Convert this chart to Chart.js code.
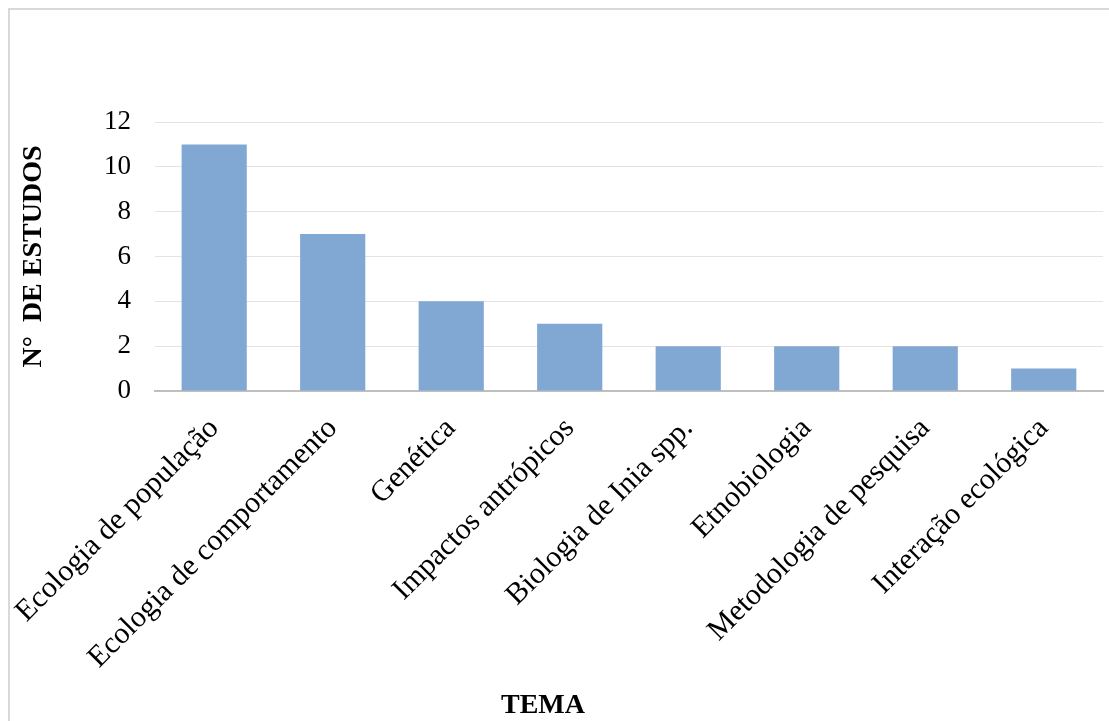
<!DOCTYPE html>
<html>
<head>
<meta charset="utf-8">
<script src="https://cdn.jsdelivr.net/npm/chart.js@4.4.0/dist/chart.umd.min.js"></script>
<style>
html,body{margin:0;padding:0;background:#fff;overflow:hidden;}
#wrap{position:relative;width:1109px;height:721px;}
#frame{position:absolute;left:8px;top:8px;width:1130px;height:740px;border:2px solid #d9d9d9;box-sizing:border-box;}
canvas{position:absolute;left:0;top:0;}
</style>
</head>
<body>
<div id="wrap">
<div id="frame"></div>
<canvas id="chart" width="1109" height="721"></canvas>
</div>
<script>
const temas = ['Ecologia de população','Ecologia de comportamento','Genética','Impactos antrópicos','Biologia de Inia spp.','Etnobiologia','Metodologia de pesquisa','Interação ecológica'];
const estudos = [11, 7, 4, 3, 2, 2, 2, 1];
const yTitulo = 'N°  DE ESTUDOS';
const xTitulo = 'TEMA';

const serif = "'Liberation Serif','Times New Roman',serif";

// x axis title is not centred on the plot in the original, so draw it here
const temaTitle = {
  id: 'temaTitle',
  afterDraw(chart) {
    const ctx = chart.ctx;
    ctx.save();
    ctx.font = "bold 28px " + serif;
    ctx.fillStyle = '#000';
    ctx.textAlign = 'center';
    ctx.textBaseline = 'alphabetic';
    ctx.fillText(xTitulo, 543, 713);
    ctx.restore();
  }
};

new Chart(document.getElementById('chart'), {
  type: 'bar',
  data: {
    labels: temas,
    datasets: [{
      data: estudos,
      backgroundColor: '#81a7d3',
      barPercentage: 0.55,
      categoryPercentage: 1
    }]
  },
  options: {
    responsive: false,
    animation: false,
    layout: {padding: {left: 2, top: 122, right: 6, bottom: 0}},
    plugins: {legend: {display: false}, tooltip: {enabled: false}},
    scales: {
      x: {
        grid: {display: false},
        border: {color: '#bfbfbf', width: 2},
        ticks: {
          color: '#000',
          font: {family: serif, size: 30},
          minRotation: 45, maxRotation: 45,
          padding: 12,
          autoSkip: false
        },
        afterFit(scale) { scale.height = 330; }
      },
      y: {
        min: 0, max: 12,
        grid: {color: '#e3e3e3', drawTicks: false},
        border: {display: false},
        ticks: {
          stepSize: 2,
          color: '#000',
          font: {family: serif, size: 27},
          padding: 24
        },
        title: {
          display: true,
          text: yTitulo,
          color: '#000',
          font: {family: serif, size: 28, weight: 'bold'},
          padding: {top: 4, bottom: 0}
        },
        afterFit(scale) { scale.width = 142; }
      }
    }
  },
  plugins: [temaTitle]
});
</script>
</body>
</html>
